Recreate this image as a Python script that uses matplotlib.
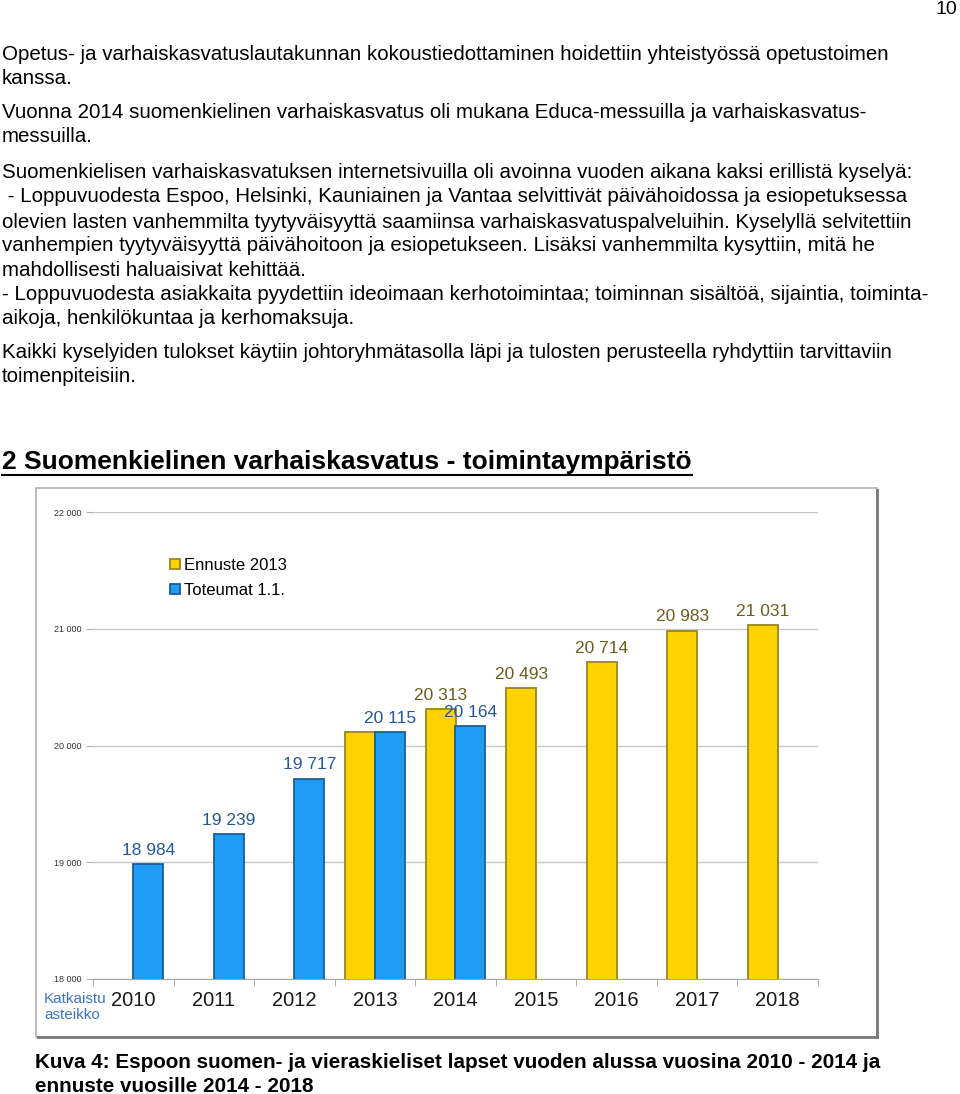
import numpy as np
import matplotlib.pyplot as plt
from matplotlib.lines import Line2D
from matplotlib.patches import Rectangle

W, H = 960, 1094

# kaavion tiedot
vuodet = ["2010", "2011", "2012", "2013", "2014", "2015", "2016", "2017", "2018"]
ennuste = [np.nan, np.nan, np.nan, 20115, 20313, 20493, 20714, 20983, 21031]
toteumat = [18984, 19239, 19717, 20115, 20164, np.nan, np.nan, np.nan, np.nan]
# 2013 ennusteen arvo jää piiloon kuvassa
ennuste_nayta = [False, False, False, False, True, True, True, True, True]
y_tikit = [18000, 19000, 20000, 21000, 22000]

teksti_rivit = [
    (55, "Opetus- ja varhaiskasvatuslautakunnan kokoustiedottaminen hoidettiin yhteistyössä opetustoimen"),
    (79, "kanssa."),
    (113, "Vuonna 2014 suomenkielinen varhaiskasvatus oli mukana Educa-messuilla ja varhaiskasvatus-"),
    (137, "messuilla."),
    (173, "Suomenkielisen varhaiskasvatuksen internetsivuilla oli avoinna vuoden aikana kaksi erillistä kyselyä:"),
    (197, " - Loppuvuodesta Espoo, Helsinki, Kauniainen ja Vantaa selvittivät päivähoidossa ja esiopetuksessa"),
    (222, "olevien lasten vanhemmilta tyytyväisyyttä saamiinsa varhaiskasvatuspalveluihin. Kyselyllä selvitettiin"),
    (246, "vanhempien tyytyväisyyttä päivähoitoon ja esiopetukseen. Lisäksi vanhemmilta kysyttiin, mitä he"),
    (270, "mahdollisesti haluaisivat kehittää."),
    (295, "- Loppuvuodesta asiakkaita pyydettiin ideoimaan kerhotoimintaa; toiminnan sisältöä, sijaintia, toiminta-"),
    (319, "aikoja, henkilökuntaa ja kerhomaksuja."),
    (353, "Kaikki kyselyiden tulokset käytiin johtoryhmätasolla läpi ja tulosten perusteella ryhdyttiin tarvittaviin"),
    (377, "toimenpiteisiin."),
]
otsikko = "2 Suomenkielinen varhaiskasvatus - toimintaympäristö"
kuvateksti = ["Kuva 4: Espoon suomen- ja vieraskieliset lapset vuoden alussa vuosina 2010 - 2014 ja",
              "ennuste vuosille 2014 - 2018"]

plt.rcParams['font.family'] = ['Liberation Sans', 'DejaVu Sans']


def fx(x):
    return x / W


def fy(y):
    return 1 - y / H


def muoto(v):
    return f"{v:,.0f}".replace(",", " ")


fig = plt.figure(figsize=(W / 100, H / 100), dpi=100)

# sivunumero ja leipäteksti
fig.text(fx(957), fy(9), "10", ha='right', va='center', fontsize=14)
for y, rivi in teksti_rivit:
    fig.text(fx(2), fy(y), rivi, ha='left', va='center', fontsize=14.8)

ots = fig.text(fx(2), fy(462), otsikko, ha='left', va='center', fontsize=19, fontweight='bold')
for i, rivi in enumerate(kuvateksti):
    fig.text(fx(35), fy(1062 + 24 * i), rivi, ha='left', va='center', fontsize=14.9, fontweight='bold')

# kaavion kehys
fig.patches.append(Rectangle((fx(36), fy(1037)), fx(877 - 36), (1037 - 488) / H,
                             transform=fig.transFigure, fill=False, edgecolor='#b0b0b0', lw=1.2))
fig.lines.append(Line2D([fx(877), fx(877)], [fy(490), fy(1037)], transform=fig.transFigure,
                        color='#7a7a7a', lw=2))
fig.lines.append(Line2D([fx(38), fx(877)], [fy(1037), fy(1037)], transform=fig.transFigure,
                        color='#7a7a7a', lw=2))

ax = fig.add_axes([fx(93), fy(979), (818 - 93) / W, (979 - 512) / H])
x = np.arange(len(vuodet))
lev = 0.37
keltainen = ax.bar(x - lev / 2, ennuste, lev, color='#FFD200', edgecolor='#9a861c', lw=1.3,
                   label='Ennuste 2013', zorder=3)
sininen = ax.bar(x + lev / 2, toteumat, lev, color='#1F9CF4', edgecolor='#1b5d9c', lw=1.3,
                 label='Toteumat 1.1.', zorder=3)

for i in range(len(vuodet)):
    if ennuste_nayta[i] and not np.isnan(ennuste[i]):
        ax.text(x[i] - lev / 2, ennuste[i] + 55, muoto(ennuste[i]), ha='center', va='bottom',
                fontsize=12.5, color='#6b5d1c', zorder=4)
    if not np.isnan(toteumat[i]):
        ax.text(x[i] + lev / 2, toteumat[i] + 55, muoto(toteumat[i]), ha='center', va='bottom',
                fontsize=12.5, color='#24579e', zorder=4)

ax.set_xlim(-0.5, len(vuodet) - 0.5)
ax.set_ylim(18000, 22000)
ax.set_yticks(y_tikit)
ax.set_yticklabels([muoto(v) for v in y_tikit], fontsize=6.5, color='#333333')
ax.set_xticks(x)
ax.set_xticklabels(vuodet, fontsize=14.5, color='#1a1a1a')
ax.set_xticks(np.arange(-0.5, len(vuodet)), minor=True)
ax.tick_params(axis='x', which='major', length=0, pad=9)
ax.tick_params(axis='x', which='minor', length=5, color='#a0a0a0')
ax.tick_params(axis='y', length=5, color='#b0b0b0', pad=3)
ax.grid(axis='y', color='#c8c8c8', lw=1, zorder=0)
for s in ['top', 'right', 'left']:
    ax.spines[s].set_visible(False)
ax.spines['bottom'].set_color('#a6a6a6')

ax.legend(handles=[keltainen, sininen], loc='upper left', bbox_to_anchor=(fx(168), fy(556)),
          bbox_transform=fig.transFigure, frameon=False, fontsize=12,
          handlelength=0.6, handleheight=0.6, handletextpad=0.25, labelspacing=0.62,
          borderaxespad=0, borderpad=0.1)

fig.text(fx(44), fy(1007), "Katkaistu\nasteikko", ha='left', va='center', fontsize=11,
         color='#3a75c4', linespacing=1.1)

# otsikon alleviivaus
fig.canvas.draw()
bb = ots.get_window_extent()
fig.lines.append(Line2D([fx(2), bb.x1 / W], [fy(475), fy(475)], transform=fig.transFigure,
                        color='black', lw=1.5))

fig.savefig("out.png", dpi=100)
